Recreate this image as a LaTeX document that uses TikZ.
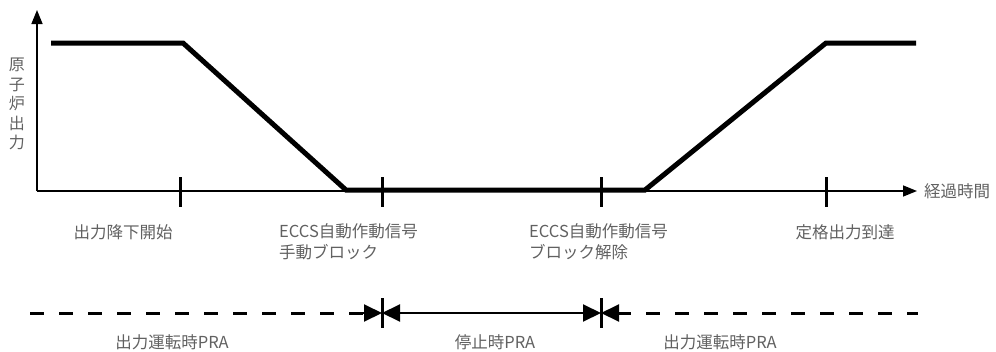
\documentclass[tikz,border=0pt]{standalone}
\usepackage{fontspec}
\setmainfont{Liberation Serif}
\newfontfamily\jp{Noto Sans CJK JP}
\usetikzlibrary{arrows.meta,calc}
\begin{document}
\begin{tikzpicture}[x=1pt,y=-1pt,
  lbl/.style={font=\jp\fontsize{16.5}{20}\selectfont, text=black!62, inner sep=0pt},
  axis/.style={line width=1.5pt},
  curve/.style={line width=5pt, line join=miter},
  tick/.style={line width=3pt},
  tipf/.style={-{Triangle[length=18pt,width=17pt]}},
  tipb/.style={{Triangle[length=18pt,width=17pt]}-},
  tipboth/.style={{Triangle[length=18pt,width=17pt]}-{Triangle[length=18pt,width=17pt]}},
  dashline/.style={line width=3pt, dash pattern=on 14pt off 15pt},
]
\useasboundingbox (0,0) rectangle (996,351);
% axes
\coordinate (O) at (37,191);
\coordinate (Ytop) at (37,10);
\coordinate (Xend) at (917,191);
\draw[axis,-{Triangle[length=14pt,width=11pt]}] (O) -- (Ytop);
\draw[axis,-{Triangle[length=14pt,width=11pt]}] (O) -- (Xend);
% output curve
\coordinate (c1) at (51,43);
\coordinate (c2) at (183,43);
\coordinate (c3) at (346,190);
\coordinate (c4) at (645,190);
\coordinate (c5) at (826,43);
\coordinate (c6) at (916,43);
\draw[curve] (c1) -- (c2) -- (c3) -- (c4) -- (c5) -- (c6);
% ticks
\foreach \n/\x in {t1/180,t2/382,t3/601,t4/826}{
  \coordinate (\n a) at (\x,177);
  \coordinate (\n b) at (\x,207);
  \draw[tick] (\n a) -- (\n b);
}
% axis labels
\node[lbl, anchor=west] (xl) at (924,191) {経過時間};
\node[lbl, align=center, text width=17pt, font=\jp\fontsize{16}{19.5}\selectfont] (yl) at (17,104) {原\\子\\炉\\出\\力};
% event labels
\node[lbl] (e1) at (123,232) {出力降下開始};
\node[lbl, anchor=west, align=left] (e2) at (279,242) {ECCS自動作動信号\\[1pt]手動ブロック};
\node[lbl, anchor=west, align=left] (e3) at (529,242) {ECCS自動作動信号\\[1pt]ブロック解除};
\node[lbl] (e4) at (845,232) {定格出力到達};
% bottom PRA periods
\coordinate (p0) at (30,313);
\coordinate (p1) at (382,313);
\coordinate (p2) at (601,313);
\coordinate (p3) at (918,313);
\coordinate (b1a) at (382,298);
\coordinate (b1b) at (382,328);
\coordinate (b2a) at (601,298);
\coordinate (b2b) at (601,328);
\draw[dashline] (p0) -- ($(p1)+(-16,0)$);
\draw[dashline] ($(p2)+(16,0)$) -- (p3);
\draw[line width=2pt, tipf] ($(p1)+(-25,0)$) -- (p1);
\draw[line width=2pt, tipb] (p2) -- ($(p2)+(25,0)$);
\draw[line width=2pt, tipboth] (p1) -- (p2);
\draw[tick] (b1a) -- (b1b);
\draw[tick] (b2a) -- (b2b);
\node[lbl] (r1) at (172,342) {出力運転時PRA};
\node[lbl] (r2) at (495,342) {停止時PRA};
\node[lbl] (r3) at (720,342) {出力運転時PRA};
\end{tikzpicture}
\end{document}
